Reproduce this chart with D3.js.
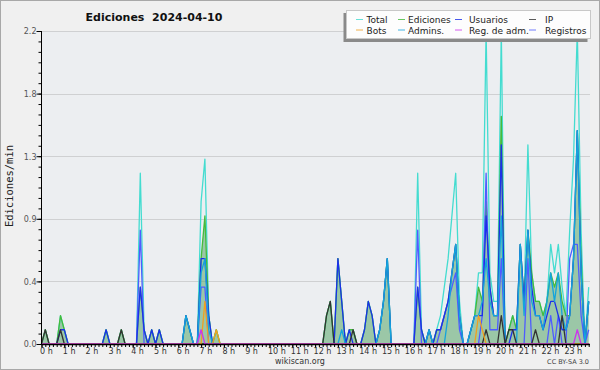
<!DOCTYPE html>
<html><head><meta charset="utf-8">
<script src="https://cdn.jsdelivr.net/npm/d3@7"></script>
<style>
html,body{margin:0;padding:0;background:#f0f0f0;}
svg{display:block;}
</style></head>
<body>
<svg id="chart" width="600" height="370"></svg>
<script>
// Counts per 10-minute bin (145 points, 0h..24h); plotted as edits per minute (count / 10)
const binMinutes = 10;
const seriesNames = ["Total","Ediciones","Usuarios","IP","Bots","Admins.","Reg. de adm.","Registros"];
const total = [
 0,1,0,0,0,2, 1,0,0,0,0,0, 0,0,0,0,0,1, 0,0,0,1,0,0, 0,0,12,1,0,1, 0,1,0,0,0,0,
 0,0,2,1,0,0, 10,13,2,0,1,0, 0,0,0,0,0,0, 0,0,0,0,0,0, 0,0,0,0,0,0, 0,0,0,0,0,0,
 0,0,0,2,3,0, 6,3,0,1,1,0, 0,1,3,2,0,1, 3,6,0,0,0,0, 0,0,0,12,1,0, 1,0,1,2,4,6,
 9,12,3,0,0,1, 2,5,5,22,5,3, 3,22,0,1,2,1, 7,3,14,5,3,3, 2,3,7,5,7,4, 2,8,13,22,8,0, 4];
const ediciones = [
 0,1,0,0,0,2, 1,0,0,0,0,0, 0,0,0,0,0,1, 0,0,0,1,0,0, 0,0,4,1,0,1, 0,1,0,0,0,0,
 0,0,2,1,0,0, 6,9,2,0,1,0, 0,0,0,0,0,0, 0,0,0,0,0,0, 0,0,0,0,0,0, 0,0,0,0,0,0,
 0,0,0,2,3,0, 6,3,0,1,1,0, 0,1,3,2,0,1, 3,6,0,0,0,0, 0,0,0,4,1,0, 1,0,1,1,2,3,
 5,7,2,0,0,1, 2,4,3,10,4,2, 2,16,0,1,2,1, 7,3,8,5,3,3, 2,3,5,4,5,3, 2,2,6,15,6,0, 3];
const usuarios = [
 0,0,0,0,0,1, 1,0,0,0,0,0, 0,0,0,0,0,1, 0,0,0,0,0,0, 0,0,4,1,0,1, 0,1,0,0,0,0,
 0,0,2,1,0,0, 6,6,2,0,0,0, 0,0,0,0,0,0, 0,0,0,0,0,0, 0,0,0,0,0,0, 0,0,0,0,0,0,
 0,0,0,0,0,0, 6,3,0,1,0,0, 0,1,3,2,0,1, 3,6,0,0,0,0, 0,0,0,4,1,0, 1,0,1,1,2,3,
 5,7,2,0,0,1, 2,2,2,9,4,2, 2,14,0,0,1,1, 7,3,8,4,2,2, 1,2,3,3,2,1, 1,2,6,15,5,0, 3];
const ip = [
 0,1,0,0,0,1, 0,0,0,0,0,0, 0,0,0,0,0,0, 0,0,0,1,0,0, 0,0,0,0,0,0, 0,0,0,0,0,0,
 0,0,0,0,0,0, 0,0,0,0,0,0, 0,0,0,0,0,0, 0,0,0,0,0,0, 0,0,0,0,0,0, 0,0,0,0,0,0,
 0,0,0,2,3,0, 0,0,0,0,1,0, 0,0,0,0,0,0, 0,0,0,0,0,0, 0,0,0,0,0,0, 0,0,0,0,0,0,
 0,0,0,0,0,0, 0,0,0,1,0,0, 0,2,0,1,1,0, 0,0,0,0,1,0, 0,0,0,0,0,2, 0,0,0,0,0,0, 0];
const bots = [
 0,0,0,0,0,0, 0,0,0,0,0,0, 0,0,0,0,0,0, 0,0,0,0,0,0, 0,0,0,0,0,0, 0,0,0,0,0,0,
 0,0,0,0,0,0, 0,3,0,0,1,0, 0,0,0,0,0,0, 0,0,0,0,0,0, 0,0,0,0,0,0, 0,0,0,0,0,0,
 0,0,0,0,0,0, 0,0,0,0,0,0, 0,0,0,0,0,0, 0,0,0,0,0,0, 0,0,0,0,0,0, 0,0,0,0,0,0,
 0,0,0,0,0,0, 0,2,1,0,0,0, 0,0,0,0,0,0, 0,0,0,0,0,0, 0,0,0,0,0,0, 0,0,0,0,0,0, 0];
const admins = [
 0,0,0,0,0,0, 0,0,0,0,0,0, 0,0,0,0,0,0, 0,0,0,0,0,0, 0,0,0,0,0,0, 0,0,0,0,0,0,
 0,0,2,1,0,0, 5,6,1,0,0,0, 0,0,0,0,0,0, 0,0,0,0,0,0, 0,0,0,0,0,0, 0,0,0,0,0,0,
 0,0,0,0,0,0, 0,1,0,0,0,0, 0,0,0,0,0,1, 3,6,0,0,0,0, 0,0,0,0,0,0, 1,0,0,0,0,2,
 5,7,2,0,0,1, 2,2,3,6,3,2, 2,9,0,0,0,0, 7,2,8,3,2,2, 1,3,5,3,5,2, 1,2,6,15,5,0, 3];
const regAdm = [
 0,0,0,0,0,0, 0,0,0,0,0,0, 0,0,0,0,0,0, 0,0,0,0,0,0, 0,0,0,0,0,0, 0,0,0,0,0,0,
 0,0,0,0,0,0, 1,0,0,0,0,0, 0,0,0,0,0,0, 0,0,0,0,0,0, 0,0,0,0,0,0, 0,0,0,0,0,0,
 0,0,0,0,0,0, 0,0,0,0,0,0, 0,0,0,0,0,0, 0,0,0,0,0,0, 0,0,0,0,0,0, 0,0,0,0,0,0,
 0,0,0,0,0,0, 0,0,0,0,0,0, 0,0,0,0,0,0, 0,0,0,0,0,0, 0,0,0,0,0,0, 0,0,0,1,0,0, 0];
const registros = [
 0,0,0,0,0,0, 0,0,0,0,0,0, 0,0,0,0,0,0, 0,0,0,0,0,0, 0,0,8,0,0,0, 0,0,0,0,0,0,
 0,0,0,0,0,0, 4,4,0,0,0,0, 0,0,0,0,0,0, 0,0,0,0,0,0, 0,0,0,0,0,0, 0,0,0,0,0,0,
 0,0,0,0,0,0, 0,0,0,0,0,0, 0,0,0,0,0,0, 0,0,0,0,0,0, 0,0,0,8,0,0, 0,0,0,1,2,3,
 4,5,1,0,0,0, 0,0,2,12,1,1, 1,6,0,0,0,0, 0,0,6,0,0,0, 0,0,2,0,2,0, 0,6,7,7,2,0, 1];
const yTicks = [0, 0.44, 0.88, 1.32, 1.76, 2.2];
const hourLabels = ["0 h","1 h","2 h","3 h","4 h","5 h","6 h","7 h","8 h","9 h","10 h","11 h",
 "12 h","13 h","14 h","15 h","16 h","17 h","18 h","19 h","20 h","21 h","22 h","23 h"];

const colors = {
 "Total":"#44dcd0","Ediciones":"#44bb3c","Usuarios":"#1c30ea","IP":"#333333",
 "Bots":"#f0a020","Admins.":"#14a4dc","Reg. de adm.":"#cc33ee","Registros":"#4f5cff"
};
const seriesData = {
 "Total":total,"Ediciones":ediciones,"Usuarios":usuarios,"IP":ip,"Bots":bots,
 "Admins.":admins,"Reg. de adm.":regAdm,"Registros":registros
};

const svg = d3.select("#chart");
const W = 600, H = 370;
const x = d3.scaleLinear().domain([0,24]).range([41.5, 588.7]);
const y = d3.scaleLinear().domain([0,2.2]).range([344, 31]);
const perMin = c => c / binMinutes;
const hourOf = i => i * binMinutes / 60;

svg.append("rect").attr("x",0.5).attr("y",0.5).attr("width",W-1).attr("height",H-1)
  .attr("fill","#f0f0f0").attr("stroke","#a8a8a8");
svg.append("rect").attr("x",x(0)).attr("y",y(2.2)).attr("width",590-x(0)).attr("height",y(0)-y(2.2))
  .attr("fill","#eceef1");

// grid
svg.append("g").selectAll("line").data(yTicks.slice(1)).join("line")
  .attr("x1",x(0)).attr("x2",590).attr("y1",d=>Math.round(y(d))+0.5).attr("y2",d=>Math.round(y(d))+0.5)
  .attr("stroke","#cfd0d2").attr("stroke-width",1);

// area fill for Ediciones
const area = d3.area().x((d,i)=>x(hourOf(i))).y0(y(0)).y1(d=>y(perMin(d)));
svg.append("path").datum(ediciones).attr("d",area).attr("fill","#5aa86a").attr("fill-opacity",0.55);

const line = d3.line().x((d,i)=>x(hourOf(i))).y(d=>y(perMin(d)));
const drawOrder = ["Total","Ediciones","Registros","Usuarios","Admins.","IP","Bots","Reg. de adm."];
drawOrder.forEach(name=>{
  svg.append("path").datum(seriesData[name]).attr("d",line)
    .attr("fill","none").attr("stroke",colors[name]).attr("stroke-width",1.3)
    .attr("stroke-linejoin","round");
});

// Y axis
const yMinor = d3.range(0,31).map(k=>k*2.2/30);
const yAxisMinor = d3.axisLeft(y).tickValues(yMinor).tickSize(3).tickFormat("");
svg.append("g").attr("transform",`translate(${x(0)},0)`).call(yAxisMinor)
  .call(g=>g.select(".domain").remove())
  .call(g=>g.selectAll("line").attr("stroke","#000"));
const yAxis = d3.axisLeft(y).tickValues(yTicks).tickSize(5).tickFormat(d3.format(".1f"));
svg.append("g").attr("transform",`translate(${x(0)},0)`).call(yAxis)
  .call(g=>g.select(".domain").attr("stroke","#000").attr("d",`M0,${y(2.2)}V${y(0)}`))
  .call(g=>g.selectAll("text").attr("font-family","DejaVu Sans").attr("font-size",8)
     .attr("fill","#555").attr("x",-5).attr("dy","0.35em"))
  .call(g=>g.selectAll(".tick line").attr("stroke","#000"));

// X axis
const xMinor = d3.range(0,145).map(i=>hourOf(i));
svg.append("g").attr("transform",`translate(0,${y(0)})`)
  .call(d3.axisBottom(x).tickValues(xMinor).tickSize(3).tickFormat(""))
  .call(g=>g.select(".domain").attr("stroke","#000").attr("stroke-width",1.5).attr("d",`M${x(0)},0.5H590`))
  .call(g=>g.selectAll("line").attr("stroke","#000"));
svg.append("g").attr("transform",`translate(0,${y(0)})`)
  .call(d3.axisBottom(x).tickValues(d3.range(24)).tickSize(4).tickFormat((d,i)=>hourLabels[i]))
  .call(g=>g.select(".domain").remove())
  .call(g=>g.selectAll("line").attr("stroke","#000"))
  .call(g=>g.selectAll("text").attr("font-family","DejaVu Sans").attr("font-size",8)
     .attr("fill","#333").attr("text-anchor","start").attr("x",-2).attr("y",4).attr("dy","0.71em"));

// Titles
svg.append("text").attr("x",154).attr("y",21).attr("text-anchor","middle")
  .attr("font-family","DejaVu Sans").attr("font-weight","bold").attr("font-size",11)
  .attr("fill","#111").attr("xml:space","preserve").style("white-space","pre").text("Ediciones  2024-04-10");
svg.append("text").attr("transform","translate(13,186) rotate(-90)").attr("text-anchor","middle")
  .attr("font-family","DejaVu Sans Mono").attr("font-size",10.5).attr("fill","#222").text("Ediciones/min");
svg.append("text").attr("x",300).attr("y",364).attr("text-anchor","middle")
  .attr("font-family","DejaVu Sans").attr("font-size",8).attr("fill","#333").text("wikiscan.org");
svg.append("text").attr("x",589).attr("y",364).attr("text-anchor","end")
  .attr("font-family","DejaVu Sans").attr("font-size",6.5).attr("fill","#444").text("CC BY-SA 3.0");

// Legend
const lg = svg.append("g");
lg.append("rect").attr("x",343.5).attr("y",13).attr("width",244).attr("height",29).attr("fill","#8a8a8a");
lg.append("rect").attr("x",346.5).attr("y",10.5).attr("width",244).attr("height",28)
  .attr("fill","#fdfdfd").attr("stroke","#c8c8c8");
const colX = [356, 398, 455, 529];
const textX = [366.5, 408, 469, 545];
const rowY = [19.5, 30];
seriesNames.forEach((name,k)=>{
  const c = k % 4, r = Math.floor(k/4);
  lg.append("line").attr("x1",colX[c]).attr("x2",colX[c]+7).attr("y1",rowY[r]).attr("y2",rowY[r])
    .attr("stroke",colors[name]).attr("stroke-width",1).attr("opacity",0.8);
  lg.append("text").attr("x",textX[c]).attr("y",rowY[r]+3.5)
    .attr("font-family","DejaVu Sans").attr("font-size",9).attr("fill","#222").text(name);
});
</script>
</body></html>
